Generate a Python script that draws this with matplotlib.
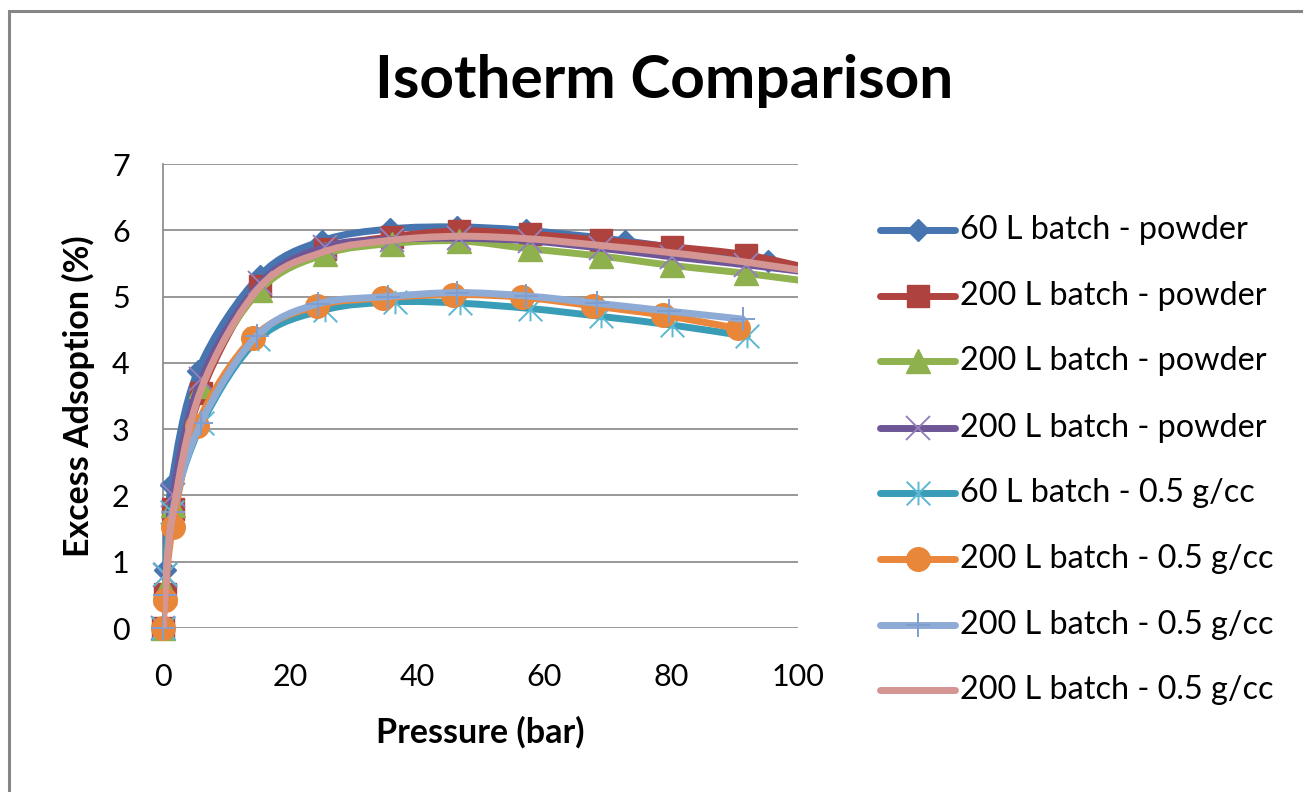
import matplotlib
matplotlib.use("Agg")
import matplotlib.pyplot as plt
from matplotlib.path import Path
from matplotlib.patches import PathPatch, Rectangle
from matplotlib.lines import Line2D
import numpy as np

# ---------------- data ----------------
title = "Isotherm Comparison"
x_label = "Pressure (bar)"
y_label = "Excess Adsoption (%)"
x_ticks = [0, 20, 40, 60, 80, 100]
y_ticks = [0, 1, 2, 3, 4, 5, 6, 7]

labels = [
    "60 L batch - powder",
    "200 L batch - powder",
    "200 L batch - powder",
    "200 L batch - powder",
    "60 L batch - 0.5 g/cc",
    "200 L batch - 0.5 g/cc",
    "200 L batch - 0.5 g/cc",
    "200 L batch - 0.5 g/cc",
]

p60_powder_x = [0, 0.3, 1.3, 5.5, 15.2, 25.0, 35.8, 46.3, 57.1, 72.8, 95.3, 110.0]
p60_powder_y = [0, 0.87, 2.15, 3.88, 5.31, 5.84, 6.02, 6.05, 6.00, 5.84, 5.53, 5.32]

p200_powder_x = [0, 0.3, 1.5, 6.0, 15.3, 25.5, 36.0, 46.6, 57.8, 69.0, 80.2, 91.8, 103.0]
p200_powder_a_y = [0, 0.52, 1.80, 3.55, 5.16, 5.72, 5.90, 5.99, 5.94, 5.85, 5.75, 5.63, 5.40]
p200_powder_b_y = [0, 0.60, 1.85, 3.65, 5.10, 5.64, 5.80, 5.84, 5.72, 5.61, 5.47, 5.35, 5.21]
p200_powder_c_y = [0, 0.80, 2.00, 3.75, 5.20, 5.75, 5.86, 5.88, 5.84, 5.73, 5.60, 5.48, 5.35]

d60_x = [0, 0.3, 1.4, 6.2, 15.0, 25.5, 36.5, 46.8, 57.8, 69.0, 80.2, 92.0]
d60_y = [0, 0.82, 1.75, 3.10, 4.36, 4.80, 4.92, 4.90, 4.82, 4.70, 4.57, 4.40]

d200_a_x = [0, 0.3, 1.5, 5.3, 14.2, 24.2, 34.7, 45.7, 56.5, 67.7, 78.7, 90.5]
d200_a_y = [0, 0.42, 1.52, 3.05, 4.38, 4.86, 4.98, 5.03, 4.99, 4.86, 4.72, 4.52]

d200_b_x = [0, 0.3, 1.6, 6.0, 14.8, 24.4, 35.4, 46.3, 57.2, 68.3, 79.7, 91.3]
d200_b_y = [0, 0.50, 1.75, 3.10, 4.41, 4.89, 5.00, 5.06, 5.01, 4.90, 4.78, 4.66]

d200_c_x = [0, 0.3, 1.5, 6.0, 15.3, 25.5, 36.0, 46.6, 57.8, 69.0, 80.2, 91.8, 103.0]
d200_c_y = [0, 0.45, 1.70, 3.60, 5.15, 5.68, 5.85, 5.91, 5.87, 5.77, 5.66, 5.52, 5.36]

series_x = [p60_powder_x, p200_powder_x, p200_powder_x, p200_powder_x,
            d60_x, d200_a_x, d200_b_x, d200_c_x]
series_y = [p60_powder_y, p200_powder_a_y, p200_powder_b_y, p200_powder_c_y,
            d60_y, d200_a_y, d200_b_y, d200_c_y]

# ---------------- styles ----------------
FONT = ["Lato", "DejaVu Sans"]
plt.rcParams["font.family"] = FONT

line_colors = ["#4675B0", "#B0433F", "#90B24F", "#6E5697",
               "#3A9DB8", "#EA873C", "#8EABD6", "#D49593"]
marker_face = ["#4675B0", "#AE423F", "#8EB04D", "none",
               "none", "#E8873A", "none", None]
marker_edge = ["#4675B0", "#AE423F", "#8EB04D", "#9580BB",
               "#5BB8D3", "#E8873A", "#7F9ED0", None]

asterisk = Path([(-1, -1), (1, 1), (-1, 1), (1, -1), (0, -1), (0, 1)],
                [Path.MOVETO, Path.LINETO, Path.MOVETO, Path.LINETO,
                 Path.MOVETO, Path.LINETO])
markers = ["D", "s", "^", "x", asterisk, "o", "+", None]
msizes = [11.5, 16, 17, 17, 17, 17, 17, 0]
mews = [1, 1, 1, 1.4, 1.4, 1, 1.4, 0]

LW = 5.0
XMAX = 100

W, H = 1303, 792
fig = plt.figure(figsize=(W / 100, H / 100), dpi=100)
fig.patch.set_facecolor("white")

ax_l, ax_r, ax_t, ax_b = 163, 798, 164, 628
ax = fig.add_axes([ax_l / W, 1 - ax_b / H, (ax_r - ax_l) / W, (ax_b - ax_t) / H])
ax.set_xlim(0, XMAX)
ax.set_ylim(0, 7)
ax.set_xticks(x_ticks)
ax.set_yticks(y_ticks)
ax.set_xticklabels([str(v) for v in x_ticks])
ax.set_yticklabels([str(v) for v in y_ticks])
for s in ["top", "right", "bottom"]:
    ax.spines[s].set_visible(False)
ax.spines["left"].set_color("#868686")
ax.spines["left"].set_linewidth(1.2)
ax.grid(axis="y", color="#868686", linewidth=1.2)
ax.set_axisbelow(True)
ax.tick_params(length=0, labelsize=22, colors="#000000")
ax.tick_params(axis="x", pad=25)
ax.tick_params(axis="y", pad=24)


def smooth_path(xs, ys):
    pts = np.column_stack([xs, ys]).astype(float)
    n = len(pts)
    verts = [pts[0]]
    codes = [Path.MOVETO]
    for i in range(n - 1):
        p0 = pts[i - 1] if i > 0 else pts[i]
        p1 = pts[i]
        p2 = pts[i + 1]
        p3 = pts[i + 2] if i + 2 < n else pts[i + 1]
        c1 = p1 + (p2 - p0) / 6.0
        c2 = p2 - (p3 - p1) / 6.0
        verts += [c1, c2, p2]
        codes += [Path.CURVE4] * 3
    return Path(verts, codes)


for i in range(8):
    z = 3 + i
    patch = PathPatch(smooth_path(series_x[i], series_y[i]), facecolor="none",
                      edgecolor=line_colors[i], linewidth=LW, zorder=z,
                      capstyle="round", joinstyle="round")
    ax.add_patch(patch)
    if markers[i] is not None:
        mx = [x for x in series_x[i] if x <= XMAX]
        my = [y for x, y in zip(series_x[i], series_y[i]) if x <= XMAX]
        ax.plot(mx, my, linestyle="none", marker=markers[i],
                markersize=msizes[i], markerfacecolor=marker_face[i],
                markeredgecolor=marker_edge[i], markeredgewidth=mews[i],
                zorder=z + 0.5, clip_on=False)

ax.set_xlabel(x_label, fontsize=24.5, fontweight="bold", labelpad=18)
ax.set_ylabel(y_label, fontsize=24.5, fontweight="bold", labelpad=12)

fig.text(664 / W, 1 - 81 / H, title, fontsize=43.5, fontweight="bold",
         ha="center", va="center")

# legend (drawn in figure pixel coordinates)
leg_x0, leg_x1, text_x = 880, 955, 960
row_y = [230, 296, 361, 428, 493, 559, 625, 690]
for i in range(8):
    yy = 1 - row_y[i] / H
    fig.add_artist(Line2D([leg_x0 / W, leg_x1 / W], [yy, yy],
                          transform=fig.transFigure, color=line_colors[i],
                          linewidth=LW, solid_capstyle="round"))
    if markers[i] is not None:
        fig.add_artist(Line2D([(leg_x0 + leg_x1) / 2 / W], [yy],
                              transform=fig.transFigure, linestyle="none",
                              marker=markers[i], markersize=msizes[i],
                              markerfacecolor=marker_face[i],
                              markeredgecolor=marker_edge[i],
                              markeredgewidth=mews[i]))
    fig.text(text_x / W, yy, labels[i], fontsize=23.3, ha="left", va="center")

# outer frame
fig.add_artist(Rectangle((9 / W, -0.1), 1.2, 1.1 - 11 / H,
                         transform=fig.transFigure, fill=False,
                         edgecolor="#868686", linewidth=2.2))

fig.savefig("out.png", dpi=100)
